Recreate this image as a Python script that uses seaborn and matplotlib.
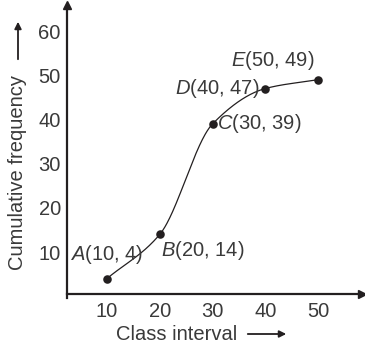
import numpy as np
import pandas as pd
import matplotlib
matplotlib.use("Agg")
import matplotlib.pyplot as plt
import seaborn as sns

# Ogive data: upper class limits and cumulative frequencies
point_names = ["A", "B", "C", "D", "E"]
class_limits = [10, 20, 30, 40, 50]
cum_freq = [4, 14, 39, 47, 49]
x_ticks = [10, 20, 30, 40, 50]
y_ticks = [10, 20, 30, 40, 50, 60]

sns.set_theme(style="white")
plt.rcParams["font.family"] = ["Liberation Sans", "DejaVu Sans"]
plt.rcParams["mathtext.fontset"] = "custom"
plt.rcParams["mathtext.rm"] = "Liberation Sans"
plt.rcParams["mathtext.it"] = "Liberation Sans:italic"

INK = "#231f20"
TXT = "#3a3a3a"
FS = 14.5

W, H = 365, 346
fig = plt.figure(figsize=(W / 100, H / 100), dpi=100)
fig.patch.set_facecolor("white")
ax = fig.add_axes([67 / W, 52 / H, (362 - 67) / W, (294 - 5) / H])
ax.set_xlim(2.42, 58.3)
ax.set_ylim(0.5, 65.9)


def monotone_curve(xs, ys, n=300):
    """Fritsch-Carlson monotone cubic through the given points."""
    xs = np.asarray(xs, float)
    ys = np.asarray(ys, float)
    h = np.diff(xs)
    d = np.diff(ys) / h
    m = np.empty_like(xs)
    m[0], m[-1] = d[0], d[-1]
    for i in range(1, len(xs) - 1):
        if d[i - 1] * d[i] <= 0:
            m[i] = 0.0
        else:
            w1 = 2 * h[i] + h[i - 1]
            w2 = h[i] + 2 * h[i - 1]
            m[i] = (w1 + w2) / (w1 / d[i - 1] + w2 / d[i])
    xx = np.linspace(xs[0], xs[-1], n)
    idx = np.clip(np.searchsorted(xs, xx) - 1, 0, len(xs) - 2)
    t = (xx - xs[idx]) / h[idx]
    h00 = 2 * t**3 - 3 * t**2 + 1
    h10 = t**3 - 2 * t**2 + t
    h01 = -2 * t**3 + 3 * t**2
    h11 = t**3 - t**2
    yy = (h00 * ys[idx] + h10 * h[idx] * m[idx]
          + h01 * ys[idx + 1] + h11 * h[idx] * m[idx + 1])
    return xx, yy


cx, cy = monotone_curve(class_limits, cum_freq)
curve = pd.DataFrame({"x": cx, "y": cy})
pts = pd.DataFrame({"x": class_limits, "y": cum_freq, "name": point_names})

sns.lineplot(data=curve, x="x", y="y", ax=ax, color=INK, lw=0.9,
             sort=False, estimator=None)
sns.scatterplot(data=pts, x="x", y="y", ax=ax, color=INK, s=38,
                edgecolor=INK, linewidth=0, zorder=3)

# Point labels: (offset in pixels, horizontal alignment, vertical alignment)
placement = {
    "A": ((0, 13), "center", "bottom"),
    "B": ((1, -5), "left", "top"),
    "C": ((4, 0), "left", "center"),
    "D": ((-6, 0), "right", "center"),
    "E": ((-4, 8), "right", "bottom"),
}
for name, xv, yv in zip(point_names, class_limits, cum_freq):
    off, ha, va = placement[name]
    ax.annotate(f"${name}$({xv}, {yv})", (xv, yv), xytext=off,
                textcoords="offset pixels", ha=ha, va=va,
                fontsize=FS, color=TXT)

# Axes with arrowheads
for s in ["top", "right"]:
    ax.spines[s].set_visible(False)
for s in ["left", "bottom"]:
    ax.spines[s].set_color(INK)
    ax.spines[s].set_linewidth(1.6)
ax.spines["left"].set_bounds(-0.5, 64.5)
ax.spines["bottom"].set_bounds(2.42, 57.5)
ax.plot(1, 0, ">", color=INK, ms=6, transform=ax.transAxes, clip_on=False)
ax.plot(0, 1, "^", color=INK, ms=6, transform=ax.transAxes, clip_on=False)

ax.set_xticks(x_ticks)
ax.set_yticks(y_ticks)
ax.tick_params(axis="x", direction="inout", length=6, width=1.2, color=INK,
               labelsize=FS, labelcolor=TXT, pad=3)
ax.tick_params(axis="y", direction="out", length=4, width=1.2, color=INK,
               labelsize=FS, labelcolor=TXT, pad=0.5)
ax.set_xlabel("")
ax.set_ylabel("")

# Axis titles with direction arrows
fig.text(177 / W, 1 - 335 / H, "Class interval", ha="center", va="center",
         fontsize=FS, color=TXT)
fig.add_artist(matplotlib.patches.FancyArrowPatch(
    (245 / W, 1 - 334 / H), (289 / W, 1 - 334 / H), transform=fig.transFigure,
    arrowstyle="-|>", mutation_scale=10, color=INK, lw=1.3))
fig.text(18 / W, 1 - 172 / H, "Cumulative frequency", ha="center",
         va="center", rotation=90, fontsize=FS, color=TXT)
fig.add_artist(matplotlib.patches.FancyArrowPatch(
    (18 / W, 1 - 62 / H), (18 / W, 1 - 19 / H), transform=fig.transFigure,
    arrowstyle="-|>", mutation_scale=10, color=INK, lw=1.3))

fig.savefig("out.png", dpi=100, facecolor="white")
